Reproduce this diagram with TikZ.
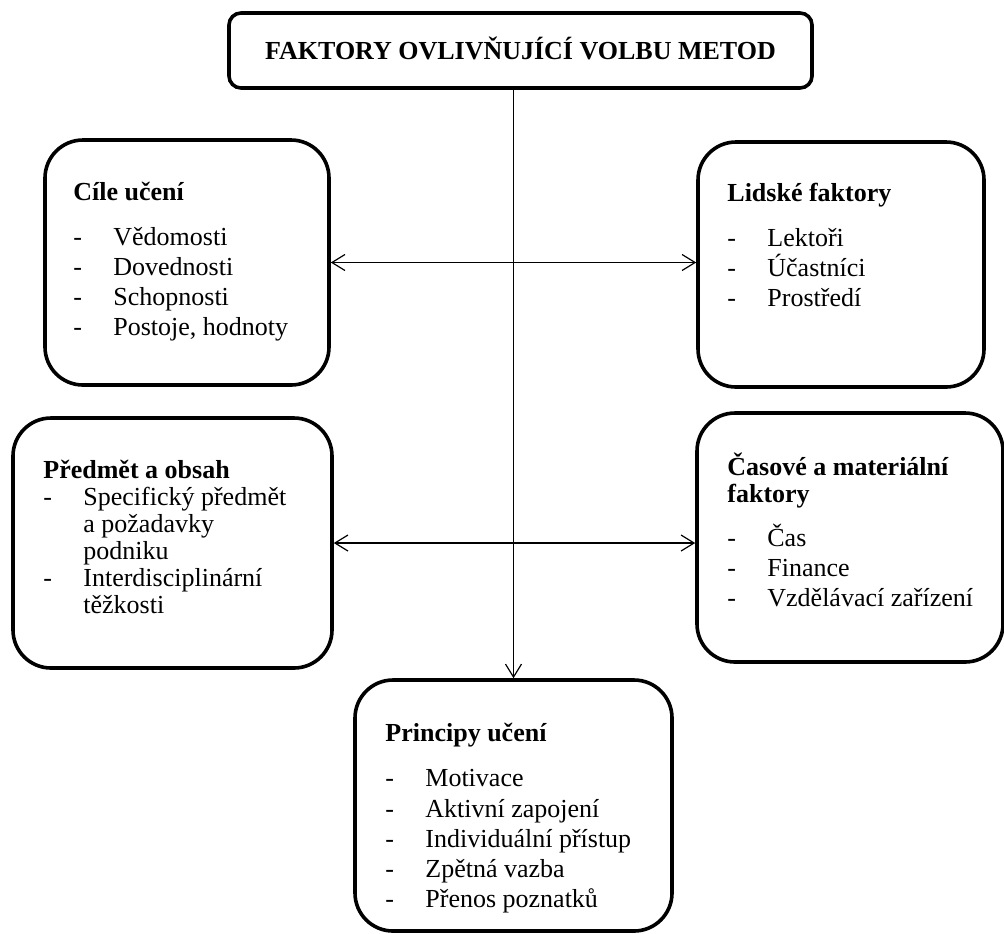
\documentclass[tikz,border=0pt]{standalone}
\usepackage{fontspec}
\setmainfont{Liberation Serif}
\usetikzlibrary{arrows.meta}
\newcommand\tblock[1]{\vtop{\baselineskip=0pt\lineskip=0pt\lineskiplimit=-\maxdimen #1}}
\newcommand\hd[1]{\hbox{\bfseries #1}}
\newcommand\itm[1]{\hbox{\makebox[20pt][l]{-}#1}}
\newcommand\cnt[1]{\hbox{\hskip20pt #1}}
\newcommand\gap[1]{\vskip#1\relax}
\begin{document}
\begin{tikzpicture}[x=0.5pt,y=-0.5pt,
  box/.style={draw, line width=1.8pt, rounded corners=19pt, inner sep=0pt},
  txt/.style={inner sep=0pt, anchor=base west, font=\fontsize{13}{15}\selectfont},
  conn/.style={line width=0.6pt},
  >={Straight Barb[length=6.5pt,width=8pt]}]
\useasboundingbox (0,0) rectangle (1004,933);

% boxes
\node[box, rounded corners=6pt, minimum width=291.5pt, minimum height=37.5pt,
      font=\fontsize{13}{15}\selectfont\bfseries, text height=9pt, text depth=0pt]
      (title) at (520.5,50.5) {FAKTORY OVLIVŇUJÍCÍ VOLBU METOD};
\node[box, minimum width=142pt, minimum height=122.5pt] (L1) at (187,262.5) {};
\node[box, minimum width=143pt, minimum height=122.5pt] (R1) at (841,264.5) {};
\node[box, minimum width=159.5pt, minimum height=125pt] (L2) at (172.5,543) {};
\node[box, minimum width=153pt, minimum height=124.5pt] (R2) at (850,537.5) {};
\node[box, minimum width=158.5pt, minimum height=125.5pt] (B) at (513.5,805.5) {};

% texts
\node[txt] (tL1) at (73,200) {\tblock{\hd{Cíle učení}\gap{22.5pt}\itm{Vědomosti}\gap{15pt}\itm{Dovednosti}\gap{15pt}\itm{Schopnosti}\gap{15pt}\itm{Postoje, hodnoty}}};
\node[txt] (tR1) at (727,201) {\tblock{\hd{Lidské faktory}\gap{22.5pt}\itm{Lektoři}\gap{15pt}\itm{Účastníci}\gap{15pt}\itm{Prostředí}}};
\node[txt] (tL2) at (43,478) {\tblock{\hd{Předmět a obsah}\gap{13.5pt}\itm{Specifický předmět}\gap{13.5pt}\cnt{a požadavky}\gap{13.5pt}\cnt{podniku}\gap{13.5pt}\itm{Interdisciplinární}\gap{13.5pt}\cnt{těžkosti}}};
\node[txt] (tR2) at (727,475) {\tblock{\hd{Časové a materiální}\gap{13.5pt}\hd{faktory}\gap{22pt}\itm{Čas}\gap{15pt}\itm{Finance}\gap{15pt}\itm{Vzdělávací zařízení}}};
\node[txt] (tB) at (385,741) {\tblock{\hd{Principy učení}\gap{22.5pt}\itm{Motivace}\gap{15.5pt}\itm{Aktivní zapojení}\gap{15pt}\itm{Individuální přístup}\gap{15pt}\itm{Zpětná vazba}\gap{15pt}\itm{Přenos poznatků}}};

% connectors
\draw[conn,->] (title.south -| B.north) -- (B.north);
\draw[conn,<->] (L1.east) -- (L1.east -| R1.west);
\draw[conn,<->] (L2.east) -- (L2.east -| R2.west);
\end{tikzpicture}
\end{document}
